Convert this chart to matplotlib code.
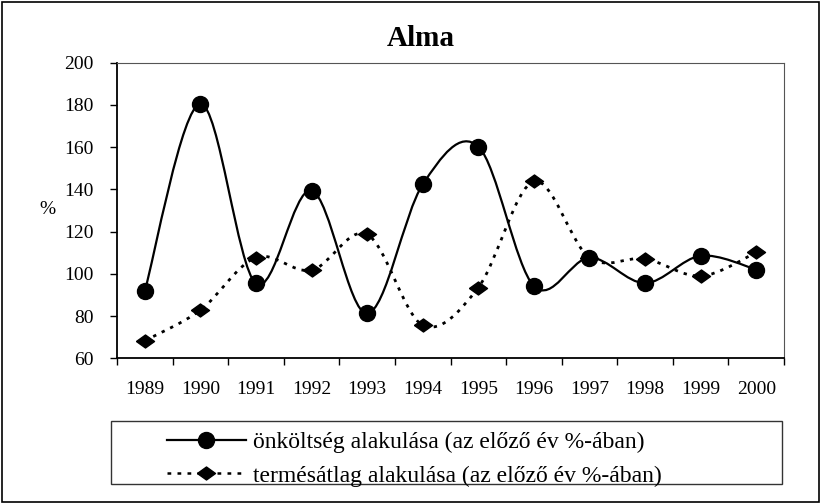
import numpy as np
import matplotlib
matplotlib.use("Agg")
from matplotlib import pyplot as plt
from matplotlib.path import Path
from matplotlib.patches import PathPatch, Rectangle
from matplotlib.lines import Line2D

plt.rcParams['font.family'] = ['Liberation Serif', 'DejaVu Serif']

years = ['1989', '1990', '1991', '1992', '1993', '1994',
         '1995', '1996', '1997', '1998', '1999', '2000']
onkoltseg = [92.0, 180.5, 95.5, 139.5, 81.3, 142.4, 160.3, 94.3, 107.7, 95.7, 108.6, 102.1]
termesatlag = [68.4, 82.9, 107.8, 101.8, 118.7, 75.8, 93.6, 143.8, 107.7, 107.2, 99.0, 110.2]

label1 = 'önköltség alakulása (az előző év %-ában)'
label2 = 'termésátlag alakulása (az előző év %-ában)'


def smooth_path(xs, ys):
    # Excel-like smoothed line: cubic bezier segments through the points
    pts = np.column_stack([xs, ys]).astype(float)
    n = len(pts)
    verts = [pts[0]]
    codes = [Path.MOVETO]
    for i in range(n - 1):
        p0 = pts[i - 1] if i > 0 else pts[i]
        p1 = pts[i]
        p2 = pts[i + 1]
        p3 = pts[i + 2] if i + 2 < n else pts[i + 1]
        c1 = p1 + (p2 - p0) / 6.0
        c2 = p2 - (p3 - p1) / 6.0
        verts += [c1, c2, p2]
        codes += [Path.CURVE4] * 3
    return Path(verts, codes)


fig = plt.figure(figsize=(8.21, 5.04), dpi=100)
ax = fig.add_axes([0.1425, 0.2887, 0.8125, 0.5869])

x = np.arange(len(years))

# smoothed lines
ax.add_patch(PathPatch(smooth_path(x, onkoltseg), fill=False, edgecolor='black',
                       linewidth=1.6, linestyle='-'))
ax.add_patch(PathPatch(smooth_path(x, termesatlag), fill=False, edgecolor='black',
                       linewidth=2.0, linestyle=(0, (1.2, 2.2))))

diamond = [(-1, 0), (0, 0.72), (1, 0), (0, -0.72), (-1, 0)]
ax.plot(x, termesatlag, linestyle='none', marker=diamond, markersize=13, color='black')
ax.plot(x, onkoltseg, linestyle='none', marker='o', markersize=11.5, color='black')

ax.set_xlim(-0.5, len(years) - 0.5)
ax.set_ylim(60, 200)
ax.set_yticks(np.arange(60, 201, 20))
ax.set_xticks(x)
ax.set_xticklabels(years)
ax.set_xticks(np.arange(-0.5, len(years), 1), minor=True)
ax.tick_params(axis='x', which='major', length=0, pad=16, labelsize=14)
ax.tick_params(axis='x', which='minor', length=5, direction='out', width=1)
ax.tick_params(axis='y', length=5, direction='out', width=1, labelsize=14, pad=12)

for sp in ['left', 'bottom']:
    ax.spines[sp].set_linewidth(1.3)
for sp in ['top', 'right']:
    ax.spines[sp].set_linewidth(0.8)
    ax.spines[sp].set_color('#555555')

ax.set_ylabel('%', rotation=0, fontsize=14)
ax.yaxis.set_label_coords(-0.105, 0.475)

fig.text(0.513, 0.924, 'Alma', ha='center', va='center', fontsize=21, fontweight='bold')

# legend box
fig.add_artist(Rectangle((0.135, 0.040), 0.8175, 0.124, transform=fig.transFigure,
                         fill=False, edgecolor='#333333', linewidth=1))
handles = [
    Line2D([], [], color='black', linewidth=1.6, marker='o', markersize=11.5),
    Line2D([], [], color='black', linewidth=1.8, linestyle=(0, (1.5, 2.5)),
           marker=diamond, markersize=13),
]
fig.legend(handles, [label1, label2], loc='center left', bbox_to_anchor=(0.203, 0.089),
           frameon=False, fontsize=17, handlelength=3.35, handletextpad=0.3,
           labelspacing=0.5, borderpad=0, borderaxespad=0)

# outer border
fig.add_artist(Rectangle((0.002, 0.003), 0.995, 0.994, transform=fig.transFigure,
                         fill=False, edgecolor='black', linewidth=1.2))

fig.savefig('out.png', dpi=100)
